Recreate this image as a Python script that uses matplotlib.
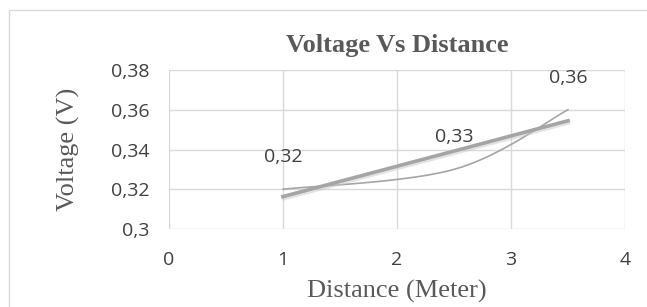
import numpy as np
import matplotlib
matplotlib.use("Agg")
import matplotlib.pyplot as plt
import matplotlib.patheffects as pe
from matplotlib.patches import Rectangle

# Data
distance = [1.0, 2.5, 3.5]
voltage = [0.32, 0.33, 0.36]
labels = ["0,32", "0,33", "0,36"]
xticks = [0, 1, 2, 3, 4]
yticks = [0.30, 0.32, 0.34, 0.36, 0.38]
ytick_labels = ["0,3", "0,32", "0,34", "0,36", "0,38"]
title = "Voltage Vs Distance"
xlabel = "Distance (Meter)"
ylabel = "Voltage (V)"


def excel_smooth(x, y, n=60):
    x = np.asarray(x, float)
    y = np.asarray(y, float)
    px = np.concatenate([[x[0]], x, [x[-1]]])
    py = np.concatenate([[y[0]], y, [y[-1]]])
    out_x, out_y = [], []
    t = np.linspace(0, 1, n)
    for i in range(1, len(px) - 2):
        p0 = np.array([px[i], py[i]])
        p3 = np.array([px[i + 1], py[i + 1]])
        c1 = p0 + (np.array([px[i + 1], py[i + 1]]) - np.array([px[i - 1], py[i - 1]])) / 6
        c2 = p3 - (np.array([px[i + 2], py[i + 2]]) - np.array([px[i], py[i]])) / 6
        b = ((1 - t) ** 3)[:, None] * p0 + (3 * (1 - t) ** 2 * t)[:, None] * c1 \
            + (3 * (1 - t) * t ** 2)[:, None] * c2 + (t ** 3)[:, None] * p3
        out_x.extend(b[:, 0])
        out_y.extend(b[:, 1])
    return np.array(out_x), np.array(out_y)


fig = plt.figure(figsize=(6.47, 3.07), dpi=100)
fig.patches.append(Rectangle((0.0145, -0.05), 1.1, 1.018, transform=fig.transFigure,
                             fill=False, edgecolor="#d9d9d9", linewidth=1.0))
ax = fig.add_axes([0.261, 0.254, 0.705, 0.518])

ax.set_xlim(0, 4)
ax.set_ylim(0.30, 0.38)
ax.set_xticks(xticks)
ax.set_yticks(yticks)
ax.set_yticklabels(ytick_labels)
ax.grid(True, color="#d9d9d9", linewidth=1.0)
ax.set_axisbelow(True)
for s in ax.spines.values():
    s.set_visible(False)
ax.tick_params(length=0, labelsize=14, labelcolor="#404040")
ax.tick_params(axis="y", pad=14)
ax.tick_params(axis="x", pad=16)
for lab in ax.get_xticklabels() + ax.get_yticklabels():
    lab.set_family("Open Sans")

sx, sy = excel_smooth(distance, voltage)
ax.plot(sx, sy, color="#a5a5a5", linewidth=1.2, zorder=3)

coef = np.polyfit(distance, voltage, 1)
tx = np.array([distance[0], distance[-1]])
ty = np.polyval(coef, tx)
ax.plot(tx, ty, color="#a5a5a5", linewidth=2.6, zorder=4,
        path_effects=[pe.SimpleLineShadow(offset=(0.5, -1.5), shadow_color="#c8c8c8", alpha=0.5), pe.Normal()])

for x, y, l in zip(distance, voltage, labels):
    ax.annotate(l, (x, y), xytext=(0, 23), textcoords="offset points",
                ha="center", va="center", fontsize=14, color="#404040", family="Open Sans")

ax.set_title(title, fontsize=19, fontweight="bold", family="Liberation Serif",
             color="#595959", pad=13)
ax.set_xlabel(xlabel, fontsize=19, family="Liberation Serif", color="#595959", labelpad=8)
ax.set_ylabel(ylabel, fontsize=19, family="Liberation Serif", color="#595959", labelpad=22)

fig.savefig("out.png", dpi=100)
